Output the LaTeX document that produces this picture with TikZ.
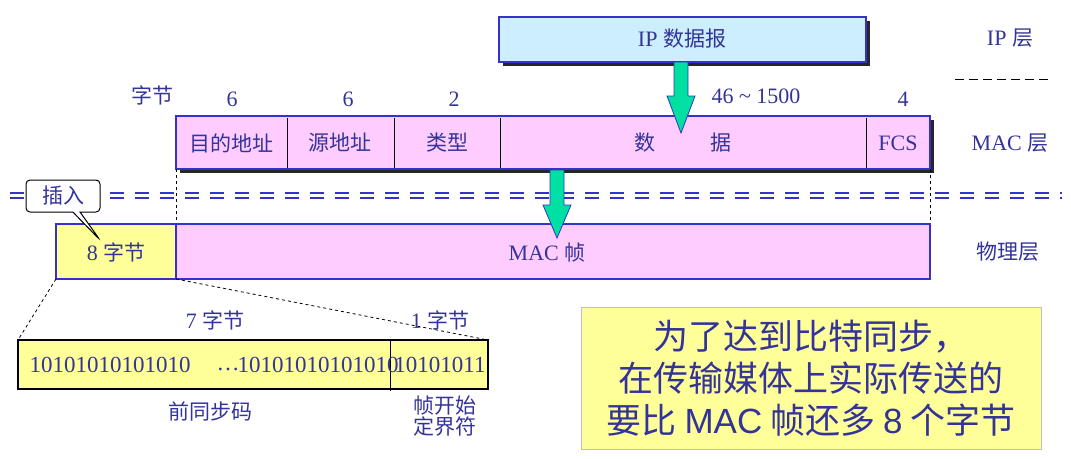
\documentclass[tikz,border=0pt]{standalone}
\usepackage{fontspec}
\setmainfont{Liberation Serif}
\newfontfamily\cjk{Noto Sans CJK SC}
\newfontfamily\sansf{Liberation Sans}
\usetikzlibrary{shapes.callouts,shadows}
\definecolor{tb}{HTML}{333399}
\definecolor{bb}{HTML}{3333CC}
\definecolor{pk}{HTML}{FFCCFF}
\definecolor{yl}{HTML}{FFFF99}
\definecolor{lb}{HTML}{CCEEFF}
\definecolor{gr}{HTML}{00E0A0}
\begin{document}
\begin{tikzpicture}[x=1pt,y=-1pt,
 every node/.style={text=tb,font=\fontsize{22}{26}\selectfont},
 fld/.style={draw=bb,line width=2.2pt},
 shad/.style={fill=black!85},
 garrow/.style={fill=gr,draw=bb,line width=0.8pt}]
\useasboundingbox (0,0) rectangle (1071,458);
% IP box
\fill[shad] (503,21) rectangle (870,66);
\draw[fld,fill=lb] (499,17) rectangle (866,62);
\node (ip) at (682,39) {IP {\cjk\fontsize{21}{24}\selectfont 数据报}};
% MAC frame
\fill[shad] (180,120) rectangle (934,173);
\draw[fld,fill=pk] (176,116) rectangle (930,169);
\foreach \x in {287,394,500,866} \draw[black,line width=0.8pt] (\x,118) -- (\x,168);
\begin{scope}[every node/.append style={font=\fontsize{21}{24}\selectfont\cjk}]
\node (da) at (231,143) {目的地址};
\node (sa) at (340,143) {源地址};
\node (ty) at (447,143) {类型};
\node (dt) at (683,143) {数\hspace{2.6em}据};
\node at (152,95) {字节};
\node at (1008,252) {物理层};
\node at (210,411) {前同步码};
\node[align=center] at (445,416) {帧开始\\[-3pt]定界符};
\end{scope}
\node (fcs) at (898,143) {FCS};
\node at (232,99) {6};
\node at (348,99) {6};
\node at (454,99) {2};
\node at (756,96) {46 \textasciitilde{} 1500};
\node at (903,99) {4};
% right labels
\node at (1010,38) {IP {\cjk\fontsize{21}{24}\selectfont 层}};
\draw[black,dash pattern=on 9pt off 5pt,line width=1pt] (955,79) -- (1050,79);
\node at (1010,143) {MAC {\cjk\fontsize{21}{24}\selectfont 层}};
% double dashed separator
\foreach \y in {193,198} \draw[bb,line width=1.2pt,dash pattern=on 14pt off 11pt] (10,\y) -- (1062,\y);
% dashed verticals
\draw[black,dashed,line width=0.6pt] (176,169) -- (176,224);
\draw[black,dashed,line width=0.6pt] (930,169) -- (930,224);
% physical layer
\draw[fld,fill=pk] (176,224) rectangle (930,279);
\draw[fld,fill=yl] (56,224) rectangle (176,279);
\node (pre) at (116,252) {8 {\cjk\fontsize{21}{24}\selectfont 字节}};
\node (mac) at (547,253) {MAC {\cjk\fontsize{21}{24}\selectfont 帧}};
% callout
\node[draw=black,fill=white,rounded corners=4pt,rectangle callout,callout absolute pointer={(100,240)},line width=1pt,minimum width=74pt,minimum height=32pt,font=\fontsize{21}{24}\selectfont\cjk] (ins) at (63,196) {插入};
% green arrows
\draw[garrow] (674,62) -- (688,62) -- (688,96) -- (695,96) -- (681,133) -- (667,96) -- (674,96) -- cycle;
\draw[garrow] (550,170) -- (564,170) -- (564,205) -- (571,205) -- (557,238) -- (543,205) -- (550,205) -- cycle;
% zoom lines
\draw[black,dashed,line width=0.8pt] (56,279) -- (18,340);
\draw[black,dashed,line width=0.8pt] (176,279) -- (488,340);
% bottom box
\draw[black,line width=1.8pt,fill=yl] (18,340) rectangle (488,389);
\draw[black,line width=0.8pt] (390,340) -- (390,391);
\begin{scope}[every node/.append style={font=\fontsize{23}{26}\selectfont}]
\node at (110,365) {10101010101010};
\node at (228,369) {\ldots};
\node at (318,365) {10101010101010};
\node at (440,365) {10101011};
\end{scope}
\node at (215,320) {7 {\cjk\fontsize{21}{24}\selectfont 字节}};
\node at (440,320) {1 {\cjk\fontsize{21}{24}\selectfont 字节}};
% note box
\node[draw=black!25,fill=yl,line width=1pt,minimum width=460pt,minimum height=142pt,align=center,
 text=tb,font=\fontsize{35}{42}\selectfont\cjk] (note) at (811,378) {为了达到比特同步，\\在传输媒体上实际传送的\\要比 {\sansf MAC} 帧还多 {\sansf 8} 个字节};
\end{tikzpicture}
\end{document}
